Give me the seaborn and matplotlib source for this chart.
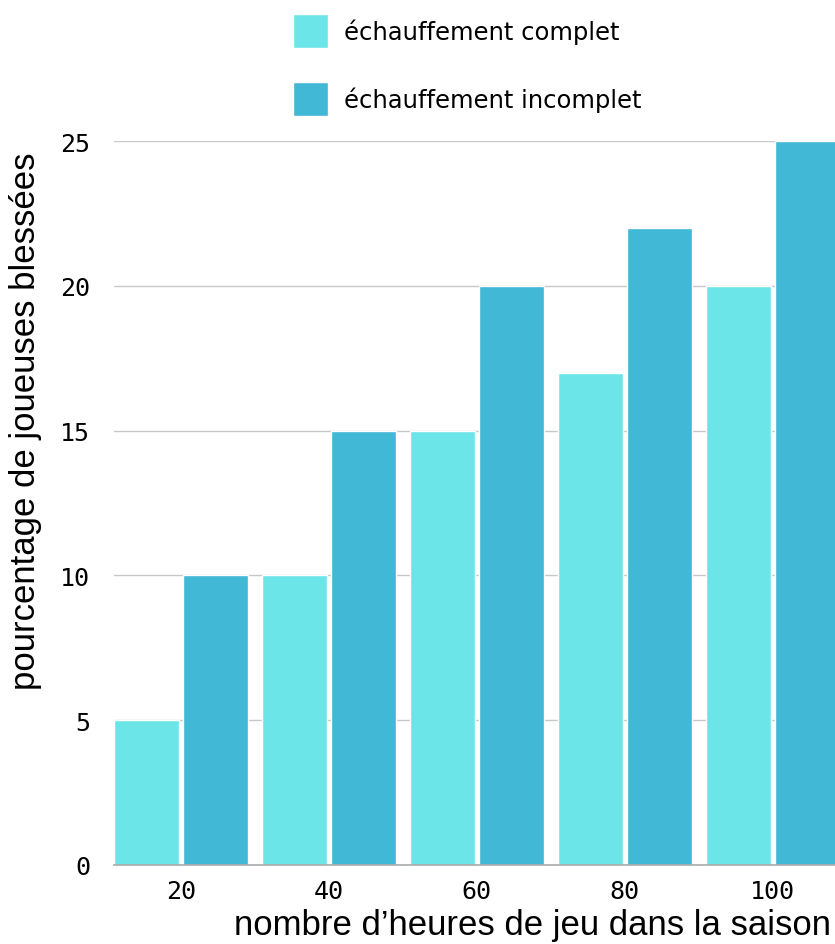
import matplotlib
matplotlib.use("Agg")
import matplotlib.pyplot as plt
import seaborn as sns
import pandas as pd

hours = ["20", "40", "60", "80", "100"]
complet = [5, 10, 15, 17, 20]
incomplet = [10, 15, 20, 22, 25]
series_names = ["échauffement complet", "échauffement incomplet"]
colors = ["#6CE5E8", "#41B8D5"]

df = pd.DataFrame({
    "heures": hours * 2,
    "valeur": complet + incomplet,
    "serie": [series_names[0]] * len(hours) + [series_names[1]] * len(hours),
})

sns.set_theme(style="white")
plt.rcParams["font.family"] = ["DejaVu Sans"]

fig = plt.figure(figsize=(8.35, 9.45), dpi=100)
ax = fig.add_axes([0.1365, 0.0836, 1.0 - 0.1365, 0.7661])

sns.barplot(data=df, x="heures", y="valeur", hue="serie", order=hours,
            hue_order=series_names, palette=colors, width=0.932, gap=0.058,
            saturation=1, ax=ax, legend=True)

ax.set_xlim(-0.452, 4.42)
ax.set_ylim(0, 25)
ax.set_yticks([0, 5, 10, 15, 20, 25])
ax.grid(axis="y", color="#C8C8C8", linewidth=1)
ax.set_axisbelow(True)
for s in ["left", "right", "top"]:
    ax.spines[s].set_visible(False)
ax.spines["bottom"].set_color("#AAAAAA")
ax.spines["bottom"].set_linewidth(1.2)
ax.tick_params(axis="both", length=0, labelsize=18, labelcolor="black")
ax.tick_params(axis="y", pad=17)
ax.tick_params(axis="x", pad=10)
for lbl in ax.get_xticklabels() + ax.get_yticklabels():
    lbl.set_family("DejaVu Sans Mono")

ax.set_xlabel("")
ax.set_ylabel("")
fig.text(26 / 835, 1 - 421 / 945, "pourcentage de joueuses blessées",
         rotation=90, ha="center", va="center", fontsize=25,
         family="Liberation Sans", color="black")
fig.text(532 / 835, 1 - 926 / 945, "nombre d’heures de jeu dans la saison",
         ha="center", va="center", fontsize=25, family="Liberation Sans",
         color="black")

handles, labels = ax.get_legend_handles_labels()
ax.get_legend().remove()
fig.legend(handles, labels, loc="upper left",
           bbox_to_anchor=(293 / 835, 1 - 15 / 945), frameon=False,
           fontsize=17.5, handlelength=1.43, handleheight=1.776,
           labelspacing=1.4, handletextpad=0.68, borderaxespad=0,
           borderpad=0, labelcolor="black")

fig.savefig("out.png", dpi=100)
